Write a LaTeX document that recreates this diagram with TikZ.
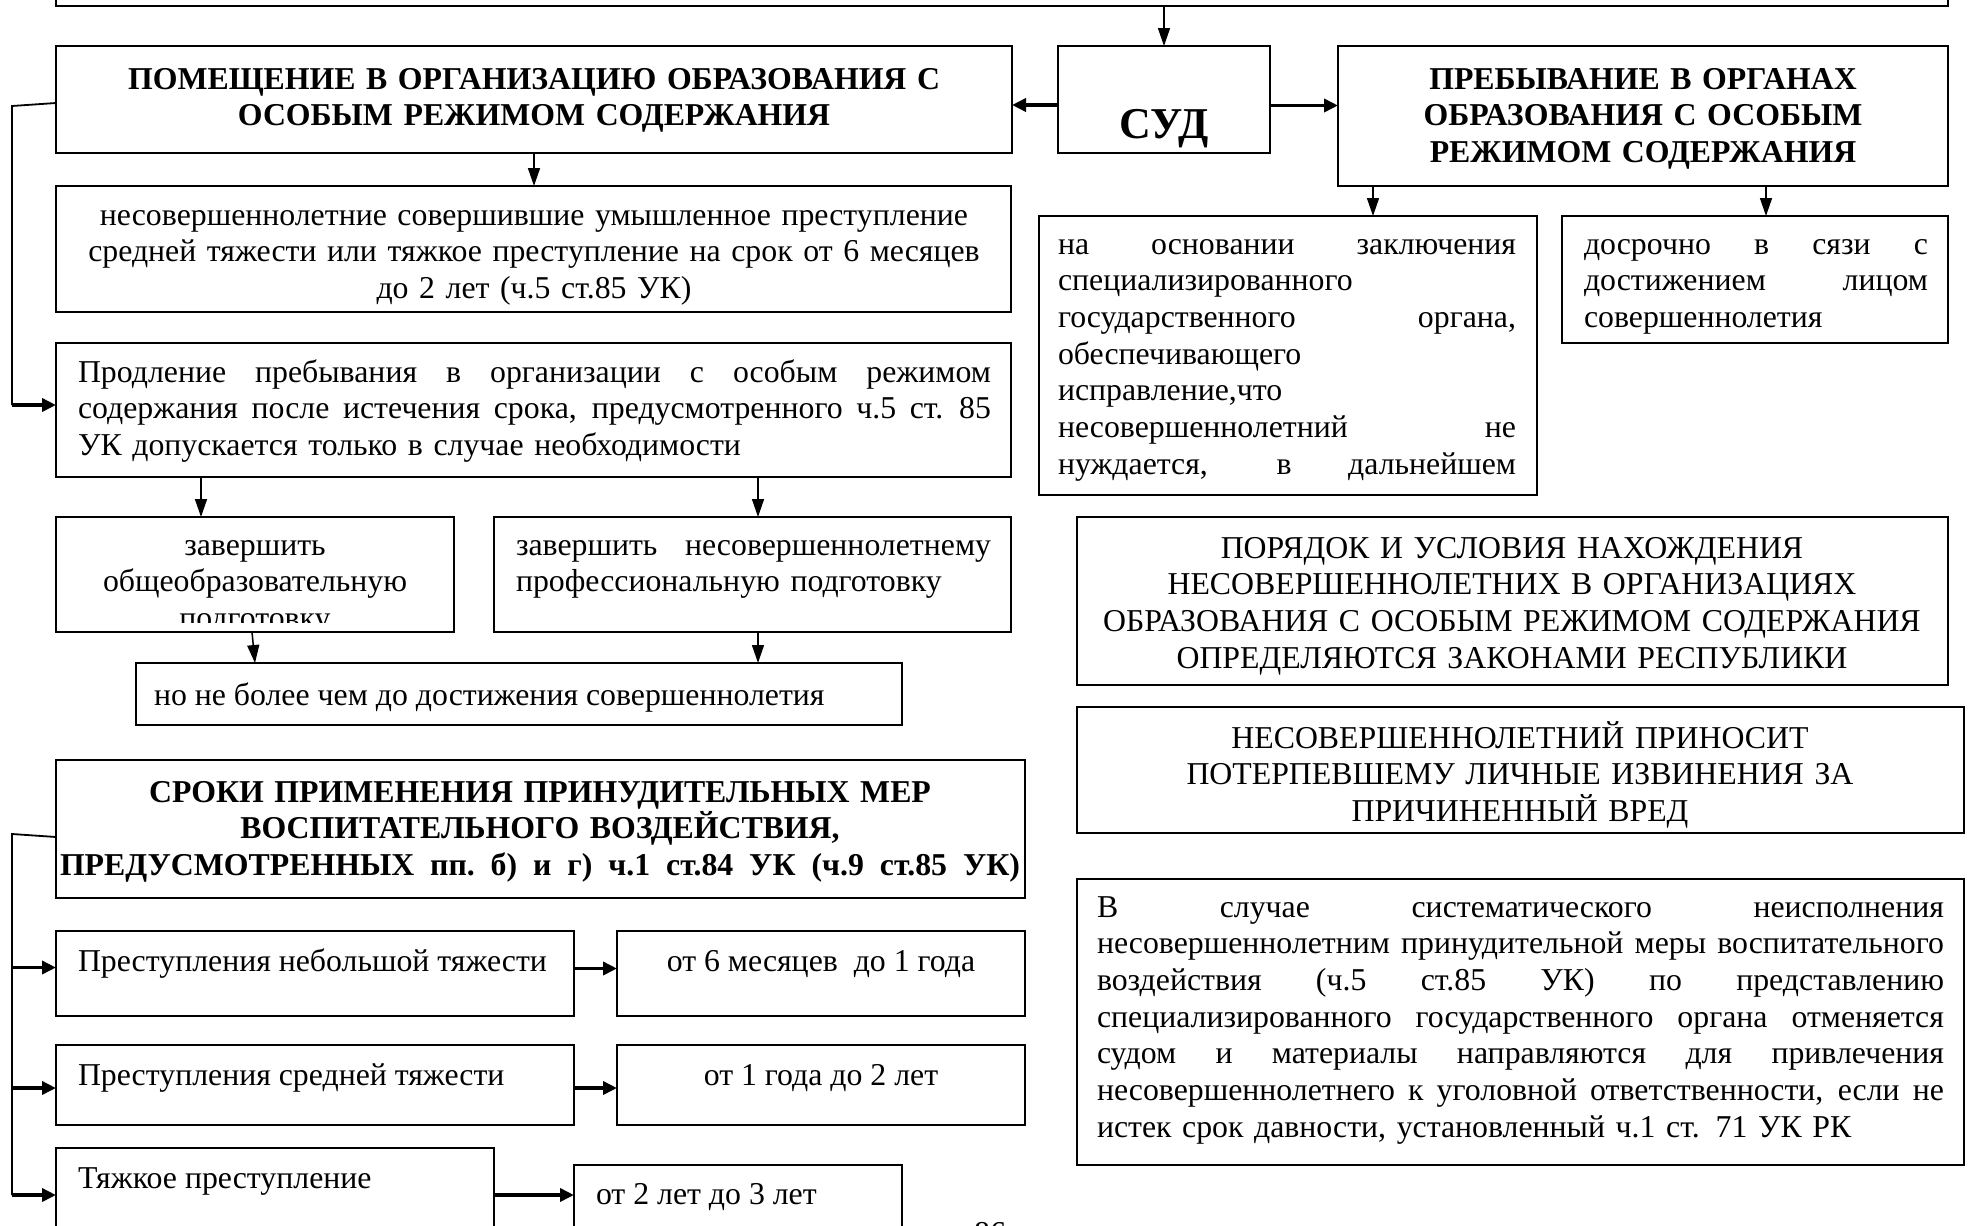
\documentclass[tikz,border=0pt]{standalone}
\usepackage{fontspec}
\setmainfont{Liberation Serif}
\usetikzlibrary{arrows.meta}
\newcommand\jl[2]{\leavevmode\hbox to #1pt{\spaceskip=.25em plus 1fil\relax #2}}
\newcommand\mkbox[5]{\node[bx,anchor=north west,minimum width={(#4-#2)*1pt},minimum height={(#5-#3)*1pt}] (#1) at (#2,#3) {};}
\begin{document}
\begin{tikzpicture}[x=1pt,y=-1pt,
  bx/.style={draw,line width=2pt,inner sep=0pt,outer sep=0pt},
  tx/.style={inner sep=0pt,outer sep=0pt,font=\fontsize{31.8}{36.7}\selectfont},
  txb/.style={inner sep=0pt,outer sep=0pt,font=\fontsize{31.8}{36.7}\selectfont\bfseries},
  arr/.style={line width=1.5pt,-{Triangle[length=18pt,width=12pt]}},
  tarr/.style={line width=3.5pt,-{Triangle[length=14pt,width=13pt]}},
  tln/.style={line width=1.8pt}]
\useasboundingbox (0,0) rectangle (1968,1226);
% boxes
\mkbox{top}{56}{-40}{1948}{6}
\mkbox{sud}{1058}{46}{1270}{153}
\mkbox{pom}{56}{46}{1012}{153}
\mkbox{preb}{1338}{46}{1948}{186}
\mkbox{nes}{56}{186}{1011}{312}
\mkbox{prod}{56}{343}{1011}{477}
\mkbox{zav1}{56}{517}{454}{632}
\mkbox{zav2}{494}{517}{1011}{632}
\mkbox{nbm}{136}{663}{902}{725}
\mkbox{sroki}{56}{760}{1025}{898}
\mkbox{r1a}{56}{931}{574}{1016}
\mkbox{r1b}{617}{931}{1025}{1016}
\mkbox{r2a}{56}{1045}{574}{1125}
\mkbox{r2b}{617}{1045}{1025}{1125}
\mkbox{r3a}{56}{1148}{494}{1260}
\mkbox{r3b}{574}{1165}{902}{1260}
\mkbox{nao}{1039}{216}{1537}{495}
\mkbox{dos}{1562}{216}{1948}{343}
\mkbox{por}{1077}{517}{1948}{685}
\mkbox{izv}{1077}{707}{1964}{833}
\mkbox{sys}{1077}{879}{1964}{1165}
% texts
\node[txb,anchor=base,text width=950pt,align=center] (tpom) at (534,89) {ПОМЕЩЕНИЕ В ОРГАНИЗАЦИЮ ОБРАЗОВАНИЯ С\\ОСОБЫМ РЕЖИМОМ СОДЕРЖАНИЯ};
\node[txb,anchor=base,font=\fontsize{44}{50}\selectfont\bfseries] (tsud) at (1164,138) {СУД};
\node[txb,anchor=base,text width=600pt,align=center] (tpreb) at (1643,89) {ПРЕБЫВАНИЕ В ОРГАНАХ\\ОБРАЗОВАНИЯ С ОСОБЫМ\\РЕЖИМОМ СОДЕРЖАНИЯ};
\node[tx,anchor=base,text width=950pt,align=center] (tnes) at (534,225) {несовершеннолетние совершившие умышленное преступление\\средней тяжести или тяжкое преступление на срок от 6 месяцев\\до 2 лет (ч.5 ст.85 УК)};
\node[tx,anchor=base west,text width=913pt,align=left] (tprod) at (78,382) {\jl{913}{Продление пребывания в организации с особым режимом}\\\jl{913}{содержания после истечения срока, предусмотренного ч.5 ст. 85}\\УК допускается только в случае необходимости};
\begin{scope}
\clip (58,519) rectangle (452,622);
\node[tx,anchor=base,text width=390pt,align=center] (tzav1) at (255,555) {завершить\\общеобразовательную\\подготовку};
\end{scope}
\node[tx,anchor=base west,text width=475pt,align=left] (tzav2) at (516,555) {\jl{475}{завершить несовершеннолетнему}\\профессиональную подготовку};
\node[tx,anchor=base west] (tnbm) at (154,705) {но не более чем до достижения совершеннолетия};
\node[txb,anchor=base,text width=964pt,align=center] (tsroki) at (540,802) {СРОКИ ПРИМЕНЕНИЯ ПРИНУДИТЕЛЬНЫХ МЕР\\ВОСПИТАТЕЛЬНОГО ВОЗДЕЙСТВИЯ,\\\jl{960}{ПРЕДУСМОТРЕННЫХ пп. б) и г) ч.1 ст.84 УК (ч.9 ст.85 УК)}};
\node[tx,anchor=base west] (tr1a) at (78,971) {Преступления небольшой тяжести};
\node[tx,anchor=base] (tr1b) at (821,971) {от 6 месяцев\ \ до 1 года};
\node[tx,anchor=base west] (tr2a) at (78,1085) {Преступления средней тяжести};
\node[tx,anchor=base] (tr2b) at (821,1085) {от 1 года до 2 лет};
\node[tx,anchor=base west] (tr3a) at (78,1188) {Тяжкое преступление};
\node[tx,anchor=base west] (tr3b) at (596,1204) {от 2 лет до 3 лет};
\node[tx,anchor=base] (pg) at (990,1243) {86};
\node[tx,anchor=base west,text width=458pt,align=left] (tnao) at (1058,254) {\jl{458}{на основании заключения}\\специализированного\\\jl{458}{государственного органа,}\\обеспечивающего\\исправление,что\\\jl{458}{несовершеннолетний не}\\\jl{458}{нуждается, в дальнейшем}};
\node[tx,anchor=base west,text width=344pt,align=left] (tdos) at (1584,254) {\jl{344}{досрочно в сязи с}\\\jl{344}{достижением лицом}\\совершеннолетия};
\node[tx,anchor=base,text width=860pt,align=center] (tpor) at (1512,558) {ПОРЯДОК И УСЛОВИЯ НАХОЖДЕНИЯ\\НЕСОВЕРШЕННОЛЕТНИХ В ОРГАНИЗАЦИЯХ\\ОБРАЗОВАНИЯ С ОСОБЫМ РЕЖИМОМ СОДЕРЖАНИЯ\\ОПРЕДЕЛЯЮТСЯ ЗАКОНАМИ РЕСПУБЛИКИ};
\node[tx,anchor=base,text width=870pt,align=center] (tizv) at (1520,748) {НЕСОВЕРШЕННОЛЕТНИЙ ПРИНОСИТ\\ПОТЕРПЕВШЕМУ ЛИЧНЫЕ ИЗВИНЕНИЯ ЗА\\ПРИЧИНЕННЫЙ ВРЕД};
\node[tx,anchor=base west,text width=847pt,align=left] (tsys) at (1097,917) {\jl{847}{В случае систематического неисполнения}\\\jl{847}{несовершеннолетним принудительной меры воспитательного}\\\jl{847}{воздействия (ч.5 ст.85 УК) по представлению}\\\jl{847}{специализированного государственного органа отменяется}\\\jl{847}{судом и материалы направляются для привлечения}\\\jl{847}{несовершеннолетнего к уголовной ответственности, если не}\\истек срок давности, установленный ч.1 ст. 71 УК РК};
% connectors
\draw[arr] (top.south -| sud.north) -- (sud.north);
\draw[tarr] ([yshift=-5.5pt]sud.west) -- ([yshift=-5.5pt]sud.west -| pom.east);
\draw[tarr] ([yshift=-6pt]sud.east) -- ([yshift=-6pt]sud.east -| preb.west);
\draw[arr] (pom.south) -- (pom.south |- nes.north);
\coordinate (b1) at (12,106);
\coordinate (b2) at (12,405);
\draw[tln] ([yshift=-3.5pt]pom.west) -- (b1) -- (b2);
\draw[tarr] (b2) -- (b2 -| prod.west);
\draw[arr] ([xshift=-54pt]zav1.north |- prod.south) -- ([xshift=-54pt]zav1.north);
\draw[arr] ([xshift=5.5pt]zav2.north |- prod.south) -- ([xshift=5.5pt]zav2.north);
\draw[arr] ([xshift=-3pt]zav1.south) -- (zav1.south |- nbm.north);
\draw[arr] ([xshift=5.5pt]zav2.south) -- ([xshift=5.5pt]zav2.south |- nbm.north);
\coordinate (c1) at (12,834);
\coordinate (c2) at (12,1195);
\draw[tln] ([yshift=-8pt]sroki.west) -- (c1) -- (c2);
\draw[tarr] ([yshift=6pt]r1a.west -| c1) -- ([yshift=6pt]r1a.west);
\draw[tarr] ([yshift=-3pt]r2a.west -| c1) -- ([yshift=-3pt]r2a.west);
\draw[tarr] (c2) -- (c2 -| r3a.west);
\draw[tarr] ([yshift=5pt]r1a.east) -- ([yshift=5pt]r1a.east -| r1b.west);
\draw[tarr] ([yshift=-3pt]r2a.east) -- ([yshift=-3pt]r2a.east -| r2b.west);
\draw[tarr] ([yshift=9pt]r3a.east) -- ([yshift=9pt]r3a.east -| r3b.west);
\draw[arr] ([xshift=85pt]nao.north |- preb.south) -- ([xshift=85pt]nao.north);
\draw[arr] ([xshift=11pt]dos.north |- preb.south) -- ([xshift=11pt]dos.north);
\end{tikzpicture}
\end{document}
